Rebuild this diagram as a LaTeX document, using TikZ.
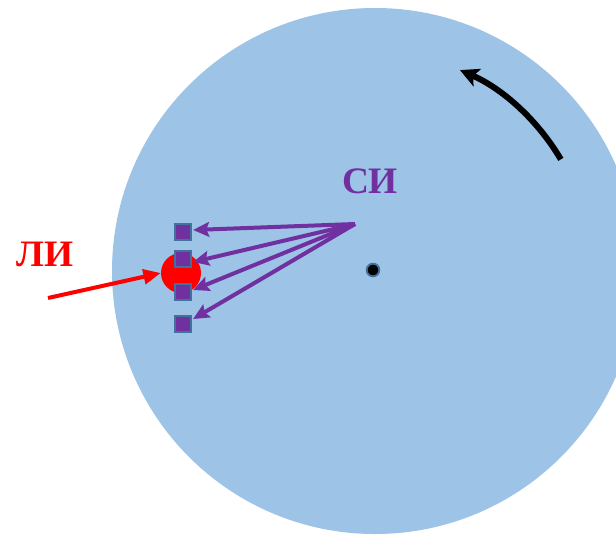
\documentclass[tikz,border=0pt]{standalone}
\usepackage{fontspec}
\setmainfont{Liberation Serif}
\usepackage{tikz}
\usetikzlibrary{positioning, arrows.meta, calc}
\definecolor{disk}{HTML}{9DC3E6}
\definecolor{violet}{HTML}{7030A0}
\definecolor{steel}{HTML}{41719C}
\tikzset{
  lbl/.style   = {font=\bfseries\fontsize{28}{30}\selectfont, inner sep=0pt},
  sensor/.style= {rectangle, draw=steel, fill=violet, line width=1.8pt,
                  minimum size=11.8pt, inner sep=0pt},
  beam/.style  = {-{Stealth[length=12pt, width=11pt, inset=2pt]},
                  violet, line width=3pt},
}
\begin{document}
\begin{tikzpicture}[
    x=0.75pt, y=-0.75pt,
    spot/.style={circle, fill=red, minimum size=30pt, inner sep=0pt},
    axis/.style={circle, fill=black, draw=steel, line width=1.4pt,
                 minimum size=9.5pt, inner sep=0pt},
    ]
    \useasboundingbox (0,0) rectangle (616,535);

    % rotating disk
    \begin{scope}
      \clip (0,0) rectangle (616,535);
      \fill[disk] (375,271) circle[radius=263];
    \end{scope}

    \node[axis] (ctr) at (373,270) {};
    \node[spot] (li) at (181,273) {};

    \node[sensor] (s1) at (183,232) {};
    \node[sensor] (s2) at (183,259) {};
    \node[sensor] (s3) at (183,292) {};
    \node[sensor] (s4) at (183,324) {};

    \node[lbl, text=violet] (silbl) at (370,181) {СИ};
    \node[lbl, text=red] (lilbl) at (45,254) {ЛИ};

    \coordinate (src) at (355,224);
    \coordinate (laser) at (48,298);

    \foreach \s/\dy in {s1/-2, s2/3, s3/-2, s4/-5}
      \draw[beam] (src) -- ($(\s.east)+(1,\dy)$);

    \draw[-{Triangle[length=13pt, width=11pt]}, red, line width=3pt]
      (laser) -- (li.west);

    % direction of rotation
    \draw[-{Stealth[length=14pt, width=14pt, inset=3pt]}, line width=4.5pt]
      ([shift={(ctr)}]-30.5:218) arc[start angle=-30.5, end angle=-66.5, radius=218];

\end{tikzpicture}
\end{document}
